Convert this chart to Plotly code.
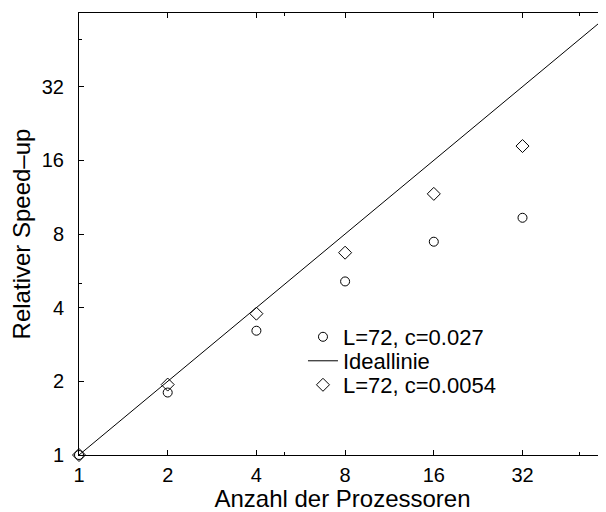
import plotly.graph_objects as go
import math

procs = [1, 2, 4, 8, 16, 32]
speedup_c027 = [1.0, 1.80, 3.22, 5.12, 7.44, 9.32]
speedup_c0054 = [1.0, 1.94, 3.78, 6.71, 11.67, 18.3]
ideal_x = [1, 64]
ideal_y = [1, 64]
tick_vals = [1, 2, 4, 8, 16, 32]
tick_text = ["1", "2", "4", "8", "16", "32"]
minor_vals = [5, 50]

FONT = "Liberation Sans, Arial, sans-serif"

fig = go.Figure()
fig.add_trace(go.Scatter(
    x=procs, y=speedup_c027, mode="markers", name="L=72, c=0.027",
    marker=dict(symbol="circle-open", size=9, color="black", line=dict(width=1, color="black")),
    cliponaxis=False, legend="legend"))
fig.add_trace(go.Scatter(
    x=ideal_x, y=ideal_y, mode="lines", name="Ideallinie",
    line=dict(color="black", width=1), legend="legend2"))
fig.add_trace(go.Scatter(
    x=procs, y=speedup_c0054, mode="markers", name="L=72, c=0.0054",
    marker=dict(symbol="diamond-open", size=10, color="black", line=dict(width=1, color="black")),
    cliponaxis=False, legend="legend3"))

legend_common = dict(xanchor="left", yanchor="middle", bgcolor="rgba(0,0,0,0)",
                     font=dict(size=22, family=FONT), itemwidth=30)

xmax = math.log10(2 ** (527 / 88.7))
fig.update_layout(
    width=598, height=504,
    margin=dict(l=71, r=0, t=5, b=57),
    paper_bgcolor="white", plot_bgcolor="white",
    font=dict(family=FONT, size=20, color="black"),
    showlegend=True,
    legend=dict(x=0.425, y=0.267, **legend_common),
    legend2=dict(x=0.425, y=0.2127, **legend_common),
    legend3=dict(x=0.425, y=0.1584, **legend_common),
    xaxis=dict(type="log", range=[0, xmax], tickvals=tick_vals, ticktext=tick_text,
               ticks="inside", ticklen=5, tickwidth=1, tickcolor="black",
               tickfont=dict(size=20),
               showline=True, linecolor="black", linewidth=1, mirror="ticks",
               showgrid=False, zeroline=False,
               minor=dict(tickvals=minor_vals, ticks="inside", ticklen=3, tickcolor="black", showgrid=False),
               title=dict(text="Anzahl der Prozessoren", standoff=3, font=dict(size=24)),
               ticklabelstandoff=2),
    yaxis=dict(type="log", range=[0, math.log10(64)], tickvals=tick_vals, ticktext=tick_text,
               ticks="inside", ticklen=5, tickwidth=1, tickcolor="black",
               tickfont=dict(size=20),
               showline=True, linecolor="black", linewidth=1, mirror=False,
               showgrid=False, zeroline=False,
               minor=dict(tickvals=minor_vals, ticks="inside", ticklen=3, tickcolor="black", showgrid=False),
               title=dict(text="Relativer Speed–up", standoff=4, font=dict(size=24)),
               ticklabelstandoff=10),
)

fig.write_html("out.html")
